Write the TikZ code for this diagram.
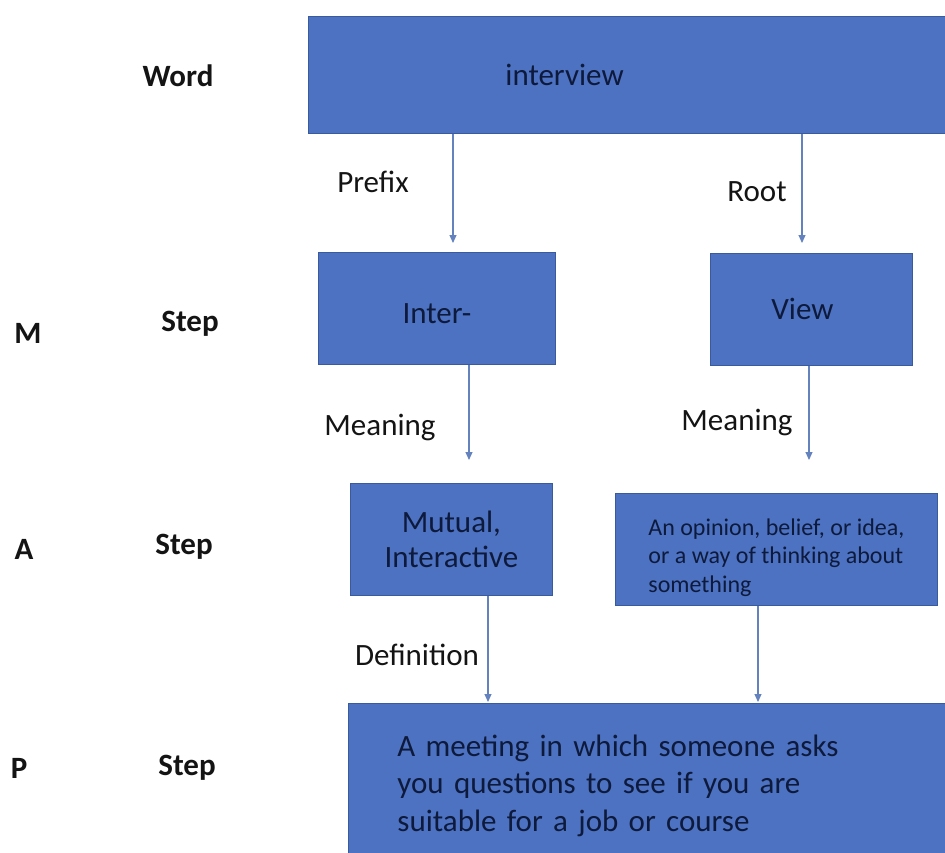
\documentclass[tikz,border=0pt]{standalone}
\usepackage{fontspec}
\setmainfont{Carlito}
\usetikzlibrary{arrows.meta}
\definecolor{boxfill}{RGB}{76,114,193}
\definecolor{boxline}{RGB}{58,90,158}
\definecolor{boxtext}{RGB}{14,26,60}
\definecolor{arrowc}{RGB}{100,130,190}
\definecolor{labelc}{RGB}{20,20,20}
\tikzset{
  blockbox/.style={draw=boxline, fill=boxfill, line width=0.8pt, text=boxtext, inner sep=0pt, anchor=north west},
  arr/.style={draw=arrowc, line width=1.1pt, -{Triangle[length=8pt,width=7pt]}},
  lab/.style={text=labelc, font=\fontsize{31}{36}\selectfont, inner sep=0pt},
  blab/.style={text=labelc, font=\bfseries\fontsize{31}{36}\selectfont, inner sep=0pt},
}
\begin{document}
\begin{tikzpicture}[x=1pt,y=-1pt]
\useasboundingbox (0,0) rectangle (945,852);
\clip (0,0) rectangle (945,852);
\fill[white] (0,0) rectangle (945,852);

% boxes
\node[blockbox, minimum width=642pt, minimum height=117pt, text width=248pt, align=left, font=\fontsize{31}{36}\selectfont] (word) at (308,16) {interview};
\node[blockbox, minimum width=237pt, minimum height=112pt, align=center, font=\fontsize{31}{36}\selectfont] (inter) at (318,252) {\rule{0pt}{30pt}Inter-};
\node[blockbox, minimum width=202pt, minimum height=112pt, text width=80pt, align=left, font=\fontsize{31}{36}\selectfont] (view) at (710,253) {View};
\node[blockbox, minimum width=202pt, minimum height=112pt, align=center, font=\fontsize{31}{35}\selectfont] (mutual) at (350,483) {Mutual,\\Interactive};
\node[blockbox, minimum width=322pt, minimum height=112pt, align=left, font=\fontsize{24}{28.5}\selectfont] (opinion) at (615,493) {\rule{0pt}{33pt}An opinion, belief, or idea,\\or a way of thinking about\\something};
\node[blockbox, minimum width=602pt, minimum height=164pt, text width=504pt, align=left, font=\fontsize{31}{37.5}\selectfont] (meet) at (348,703) {A meeting in which someone asks\\you questions to see if you are\\suitable for a job or course};

% arrow columns
\coordinate (c1) at (453,0);
\coordinate (c2) at (802,0);
\coordinate (c3) at (469,0);
\coordinate (c4) at (809,0);
\coordinate (c5) at (488,0);
\coordinate (c6) at (758,0);

\draw[arr, shorten >=9pt] (word.south -| c1) -- (inter.north -| c1);
\draw[arr, shorten >=10pt] (word.south -| c2) -- (view.north -| c2);
\draw[arr, shorten >=23pt] (inter.south -| c3) -- (mutual.north -| c3);
\draw[arr, shorten >=33pt] (view.south -| c4) -- (opinion.north -| c4);
\draw[arr, shorten >=1pt] (mutual.south -| c5) -- (meet.north -| c5);
\draw[arr, shorten >=1pt] (opinion.south -| c6) -- (meet.north -| c6);

% connector labels
\node[lab] (lprefix) at (373,182) {Prefix};
\node[lab] (lroot) at (757,192) {Root};
\node[lab] (lmean1) at (380,427) {Meaning};
\node[lab] (lmean2) at (737,422) {Meaning};
\node[lab] (ldef) at (417,655) {Definition};

% side labels
\node[blab] (lword) at (178,76) {Word};
\node[blab] (lm) at (28,333) {M};
\node[blab] (lstepm) at (190,324) {Step};
\node[blab] (la) at (24,549) {A};
\node[blab] (lstepa) at (184,547) {Step};
\node[blab] (lp) at (19,768) {P};
\node[blab] (lstepp) at (187,768) {Step};
\end{tikzpicture}
\end{document}
